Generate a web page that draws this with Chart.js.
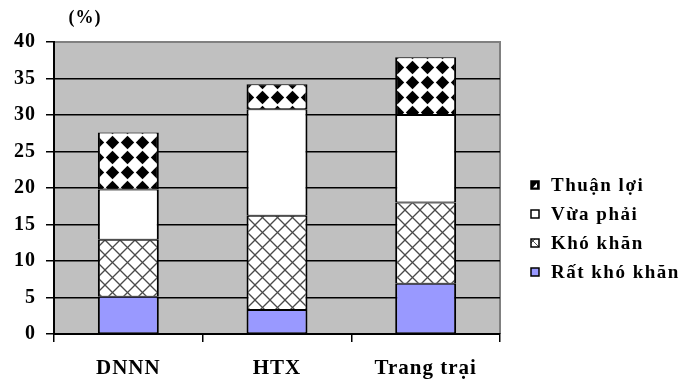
<!DOCTYPE html>
<html><head><meta charset="utf-8">
<script src="https://cdn.jsdelivr.net/npm/chart.js@4"></script>
<style>html,body{margin:0;padding:0;background:#fff}#wrap{width:685px;height:385px}</style>
</head><body><div id="wrap"><canvas id="c" width="685" height="385"></canvas></div>
<script>
const categories = ['DNNN', 'HTX', 'Trang trại'];
const seriesNames = ['Rất khó khăn', 'Khó khăn', 'Vừa phải', 'Thuận lợi'];
const ratKhoKhan = [5.1, 3.3, 6.9];
const khoKhan = [7.8, 12.9, 11.1];
const vuaPhai = [6.9, 14.6, 12.0];
const thuanLoi = [7.8, 3.4, 7.9];
const yTicks = [0, 5, 10, 15, 20, 25, 30, 35, 40];
const unitLabel = '(%)';

const FONT = "'Liberation Serif', 'Times New Roman', serif";

function diamondPattern() {
  const c = document.createElement('canvas'); c.width = 15; c.height = 15;
  const g = c.getContext('2d');
  g.fillStyle = '#fff'; g.fillRect(0, 0, 15, 15);
  g.fillStyle = '#000';
  g.beginPath(); g.moveTo(7.5, 0.8); g.lineTo(14.2, 7.5); g.lineTo(7.5, 14.2); g.lineTo(0.8, 7.5); g.closePath(); g.fill();
  return g.createPattern(c, 'repeat');
}
function crossPattern() {
  const c = document.createElement('canvas'); c.width = 15; c.height = 15;
  const g = c.getContext('2d');
  g.fillStyle = '#fff'; g.fillRect(0, 0, 15, 15);
  g.strokeStyle = '#4a4a4a'; g.lineWidth = 1.3;
  for (let k = -1; k <= 1; k++) {
    g.beginPath(); g.moveTo(-2 + 15 * k, -2); g.lineTo(17 + 15 * k, 17); g.stroke();
    g.beginPath(); g.moveTo(17 + 15 * k, -2); g.lineTo(-2 + 15 * k, 17); g.stroke();
  }
  return g.createPattern(c, 'repeat');
}

const fills = ['#9999FF', crossPattern(), '#FFFFFF', diamondPattern()];
const seriesData = [ratKhoKhan, khoKhan, vuaPhai, thuanLoi];

const bgPlugin = {
  id: 'bg',
  beforeDraw(chart) {
    const { ctx, chartArea: a } = chart;
    ctx.save();
    ctx.fillStyle = '#C0C0C0';
    ctx.fillRect(a.left, a.top, a.right - a.left, a.bottom - a.top);
    ctx.strokeStyle = '#808080'; ctx.lineWidth = 2;
    ctx.beginPath(); ctx.moveTo(a.left, a.top); ctx.lineTo(a.right, a.top); ctx.lineTo(a.right, a.bottom); ctx.stroke();
    ctx.restore();
    ctx.letterSpacing = '1px';
  },
  afterDraw(chart) {
    const ctx = chart.ctx;
    ctx.save();
    ctx.fillStyle = '#000';
    ctx.font = 'bold 18px ' + FONT;
    ctx.textAlign = 'center'; ctx.textBaseline = 'middle';
    ctx.letterSpacing = '1px';
    ctx.fillText(unitLabel, 85, 18);
    // legend
    ctx.font = 'bold 19px ' + FONT;
    ctx.letterSpacing = '1.5px';
    ctx.textAlign = 'left';
    for (let r = 0; r < 4; r++) {
      const i = 3 - r;
      const y = 185 + r * 29;
      const bx = 531, by = y - 4, bs = 8;
      ctx.fillStyle = '#fff';
      ctx.fillRect(bx, by, bs, bs);
      if (i === 3) {
        ctx.fillStyle = '#000'; ctx.fillRect(bx, by, bs, bs);
        ctx.fillStyle = '#fff';
        ctx.beginPath(); ctx.moveTo(bx + 2, by + bs - 1.5); ctx.lineTo(bx + bs - 2, by + 2); ctx.lineTo(bx + bs - 2, by + bs - 1.5); ctx.closePath(); ctx.fill();
      } else if (i === 1) {
        ctx.strokeStyle = '#555'; ctx.lineWidth = 1;
        ctx.beginPath(); ctx.moveTo(bx, by); ctx.lineTo(bx + bs, by + bs); ctx.moveTo(bx + bs / 2, by); ctx.lineTo(bx, by + bs / 2); ctx.stroke();
      } else if (i === 0) {
        ctx.fillStyle = '#9999FF'; ctx.fillRect(bx, by, bs, bs);
      }
      ctx.strokeStyle = '#000'; ctx.lineWidth = 1.5;
      ctx.strokeRect(bx, by, bs, bs);
      ctx.fillStyle = '#000';
      ctx.fillText(seriesNames[i], 551, y + 1);
    }
    ctx.restore();
    ctx.letterSpacing = '0px';
  }
};

new Chart(document.getElementById('c'), {
  type: 'bar',
  data: {
    labels: categories,
    datasets: seriesNames.map((n, i) => ({
      label: n,
      data: seriesData[i],
      backgroundColor: fills[i],
      borderColor: '#000',
      borderWidth: { top: 1, bottom: 1, left: 2, right: 2 },
      borderSkipped: false,
      categoryPercentage: 1,
      barPercentage: 0.41
    }))
  },
  plugins: [bgPlugin],
  options: {
    responsive: false,
    animation: false,
    devicePixelRatio: 1,
    layout: { padding: { top: 42, right: 185, left: 0, bottom: 0 } },
    plugins: { legend: { display: false }, tooltip: { enabled: false } },
    scales: {
      x: {
        stacked: true,
        offset: true,
        afterFit(s) { s.height = 51; },
        grid: { display: true, drawOnChartArea: false, drawTicks: true, tickLength: 8, color: '#000', lineWidth: 1.5, offset: true },
        border: { display: true, color: '#000', width: 2 },
        ticks: { color: '#000', padding: 14, font: { family: FONT, size: 21, weight: 'bold' }, maxRotation: 0 }
      },
      y: {
        stacked: true,
        min: 0, max: 40,
        afterFit(s) { s.width = 54; },
        afterBuildTicks(s) { s.ticks = yTicks.map(v => ({ value: v })); },
        grid: {
          color: c => (c.tick && c.tick.value === 40) ? '#808080' : '#000',
          tickColor: '#000',
          lineWidth: 1.5, tickLength: 8, drawTicks: true
        },
        border: { display: true, color: '#000', width: 2 },
        ticks: { color: '#000', padding: 10, font: { family: FONT, size: 20, weight: 'bold' } }
      }
    }
  }
});
</script>
</body></html>
